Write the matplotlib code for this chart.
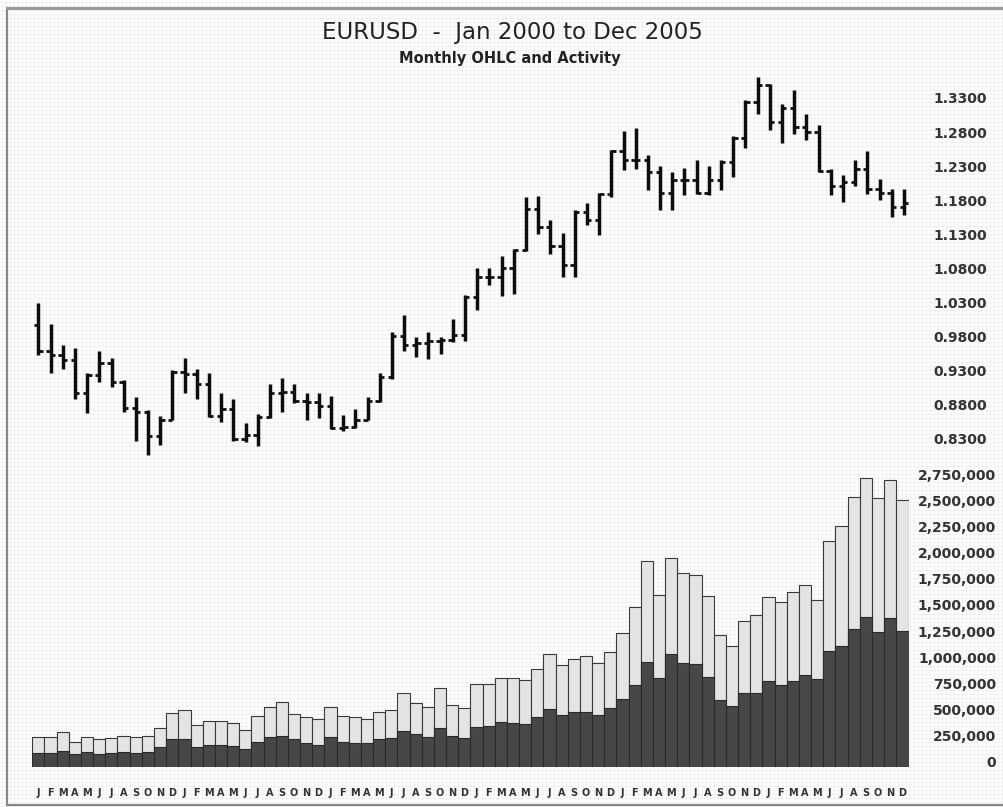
import numpy as np
import matplotlib
matplotlib.use('Agg')
import matplotlib.pyplot as plt
from matplotlib.ticker import FuncFormatter

# monthly OHLC, Jan 2000 .. Dec 2005
opens = [0.9977, 0.9586, 0.9527, 0.9454, 0.8966, 0.9244, 0.9406, 0.9136, 0.8746, 0.8696, 0.8340, 0.8584,
         0.9282, 0.9249, 0.9112, 0.8633, 0.8731, 0.8291, 0.8354, 0.8614, 0.8974, 0.8989, 0.8857, 0.8843,
         0.8779, 0.8457, 0.8476, 0.8584, 0.8857, 0.9209, 0.9806, 0.9674, 0.9699, 0.9737, 0.9757, 0.9821,
         1.0382, 1.0667, 1.0675, 1.0813, 1.1077, 1.1678, 1.1409, 1.1126, 1.0847, 1.1628, 1.1507, 1.1898,
         1.2523, 1.2397, 1.2397, 1.2215, 1.1907, 1.2104, 1.2095, 1.1907, 1.2104, 1.2362, 1.2719, 1.3241,
         1.3486, 1.2948, 1.3159, 1.2875, 1.2801, 1.2230, 1.2005, 1.2068, 1.2265, 1.1972, 1.1907, 1.1702]
highs = [1.0294, 0.9982, 0.9674, 0.9626, 0.9259, 0.9590, 0.9479, 0.9161, 0.8916, 0.8721, 0.8633, 0.9307,
         0.9479, 0.9332, 0.9259, 0.8966, 0.8878, 0.8535, 0.8672, 0.9112, 0.9200, 0.9102, 0.8966, 0.8966,
         0.8926, 0.8648, 0.8731, 0.8907, 0.9268, 0.9869, 1.0114, 0.9796, 0.9869, 0.9796, 1.0065, 1.0407,
         1.0813, 1.0813, 1.0979, 1.1092, 1.1848, 1.1859, 1.1517, 1.1321, 1.1650, 1.1760, 1.1907, 1.2543,
         1.2816, 1.2866, 1.2460, 1.2299, 1.2215, 1.2279, 1.2397, 1.2299, 1.2387, 1.2738, 1.3266, 1.3608,
         1.3511, 1.3218, 1.3423, 1.3061, 1.2900, 1.2265, 1.2167, 1.2397, 1.2523, 1.2118, 1.1972, 1.1972]
lows = [0.9527, 0.9268, 0.9332, 0.8892, 0.8681, 0.9136, 0.9062, 0.8696, 0.8271, 0.8061, 0.8208, 0.8574,
        0.8966, 0.8878, 0.8623, 0.8549, 0.8271, 0.8256, 0.8193, 0.8599, 0.8696, 0.8828, 0.8584, 0.8599,
        0.8438, 0.8417, 0.8457, 0.8574, 0.8843, 0.9171, 0.9590, 0.9494, 0.9469, 0.9552, 0.9720, 0.9737,
        1.0197, 1.0554, 1.0392, 1.0432, 1.1057, 1.1301, 1.1008, 1.0675, 1.0667, 1.1433, 1.1287, 1.1850,
        1.2250, 1.2265, 1.1957, 1.1664, 1.1664, 1.1873, 1.1898, 1.1873, 1.1947, 1.2142, 1.2573, 1.3071,
        1.2826, 1.2640, 1.2778, 1.2680, 1.2215, 1.1873, 1.1775, 1.2005, 1.1898, 1.1800, 1.1555, 1.1580]
closes = [0.9586, 0.9527, 0.9454, 0.8966, 0.9244, 0.9406, 0.9136, 0.8746, 0.8696, 0.8340, 0.8584, 0.9282,
          0.9249, 0.9112, 0.8633, 0.8731, 0.8291, 0.8354, 0.8614, 0.8974, 0.8989, 0.8857, 0.8843, 0.8779,
          0.8457, 0.8476, 0.8584, 0.8857, 0.9209, 0.9806, 0.9674, 0.9699, 0.9737, 0.9757, 0.9821, 1.0382,
          1.0667, 1.0675, 1.0813, 1.1077, 1.1678, 1.1409, 1.1126, 1.0847, 1.1628, 1.1507, 1.1898, 1.2523,
          1.2397, 1.2397, 1.2215, 1.1907, 1.2104, 1.2095, 1.1907, 1.2104, 1.2362, 1.2719, 1.3241, 1.3486,
          1.2948, 1.3159, 1.2875, 1.2801, 1.2230, 1.2005, 1.2068, 1.2265, 1.1972, 1.1907, 1.1702, 1.1760]

# activity in thousands: whole stack and the dark lower part
activity_total = [287, 287, 334, 245, 293, 267, 277, 299, 293, 299, 379, 522,
                  548, 404, 446, 446, 427, 357, 490, 580, 627, 510, 478, 459,
                  580, 490, 478, 459, 532, 548, 713, 618, 573, 755, 596, 564,
                  796, 792, 855, 851, 835, 937, 1083, 978, 1032, 1064, 994, 1105,
                  1281, 1529, 1975, 1647, 1998, 1854, 1838, 1638, 1265, 1160, 1402, 1456,
                  1631, 1583, 1679, 1743, 1599, 2167, 2307, 2581, 2763, 2571, 2747, 2555]
activity_dark = [134, 134, 159, 127, 146, 127, 134, 146, 134, 146, 197, 267,
                 267, 191, 213, 213, 204, 172, 245, 293, 299, 267, 229, 213,
                 293, 245, 229, 229, 267, 277, 350, 318, 287, 373, 299, 277,
                 388, 396, 432, 420, 414, 484, 554, 500, 532, 532, 500, 564,
                 650, 787, 1010, 851, 1083, 994, 988, 860, 643, 586, 713, 713,
                 828, 787, 828, 882, 841, 1115, 1160, 1319, 1440, 1297, 1424, 1306]

month_letters = list('JFMAMJJASOND') * 6
price_ticks = [0.83, 0.88, 0.93, 0.98, 1.03, 1.08, 1.13, 1.18, 1.23, 1.28, 1.33]
activity_ticks = list(range(0, 2751, 250))

W, H = 1004, 807


def px_rect(left, top, right, bottom):
    return [left / W, 1 - bottom / H, (right - left) / W, (bottom - top) / H]


fig = plt.figure(figsize=(W / 100, H / 100), dpi=100)

# graph-paper background and frame
bg = fig.add_axes([0, 0, 1, 1], zorder=0)
bg.set_xlim(0, W)
bg.set_ylim(H, 0)
bg.set_xticks(np.arange(2, W, 4))
bg.set_yticks(np.arange(2, H, 4))
bg.grid(True, color='#ececec', linewidth=0.5)
bg.tick_params(length=0, labelbottom=False, labelleft=False)
for s in bg.spines.values():
    s.set_visible(False)
bg.plot([7, 7], [8, 805], color='#888888', lw=1.6)
bg.plot([7, W], [8, 8], color='#999999', lw=2.2)
bg.plot([7, W], [805, 805], color='#888888', lw=1.6)

x = np.arange(len(opens))
ink = '#0d0d0d'

# price panel
ax1 = fig.add_axes(px_rect(32.3, 70, 910, 460), zorder=2)
ax1.patch.set_alpha(0)
ax1.vlines(x, lows, highs, color=ink, lw=2.5)
ax1.hlines(opens, x - 0.36, x, color=ink, lw=2.0)
ax1.hlines(closes, x, x + 0.36, color=ink, lw=2.0)
ax1.set_xlim(-0.5, 71.5)
ax1.set_ylim(0.799, 1.371)
ax1.set_xticks([])
ax1.yaxis.tick_right()
ax1.set_yticks(price_ticks)
ax1.yaxis.set_major_formatter(FuncFormatter(lambda v, p: f'{v:.4f}'))
ax1.tick_params(axis='y', length=0, pad=55.5, labelsize=10, labelcolor='#333333')
for lab in ax1.get_yticklabels():
    lab.set_ha('right')
    lab.set_fontweight('bold')
for s in ax1.spines.values():
    s.set_visible(False)

# activity panel
ax2 = fig.add_axes(px_rect(32.3, 470, 908.5, 767.3), zorder=2)
ax2.patch.set_alpha(0)
ax2.bar(x, activity_total, width=1.0, color='#e4e4e4', edgecolor='#3a3a3a', lw=0.8)
ax2.bar(x, activity_dark, width=1.0, color='#474747', edgecolor='#2a2a2a', lw=0.8)
ax2.set_xlim(-0.5, 71.5)
ax2.set_ylim(0, 2842)
ax2.yaxis.tick_right()
ax2.set_yticks(activity_ticks)
ax2.yaxis.set_major_formatter(FuncFormatter(lambda v, p: f'{int(round(v * 1000)):,}'))
ax2.tick_params(axis='y', length=0, pad=63, labelsize=10, labelcolor='#333333')
for lab in ax2.get_yticklabels():
    lab.set_ha('right')
    lab.set_va('baseline')
    lab.set_fontweight('bold')
ax2.set_xticks(x)
ax2.set_xticklabels(month_letters, fontsize=7, fontweight='bold', color='#333333')
ax2.tick_params(axis='x', length=0, pad=15)
for s in ax2.spines.values():
    s.set_visible(False)

fig.text(512 / W, 1 - 32 / H, 'EURUSD  -  Jan 2000 to Dec 2005', ha='center', va='center',
         fontsize=16.5, color='#222222')
fig.text(510 / W, 1 - 58 / H, 'Monthly OHLC and Activity', ha='center', va='center',
         fontsize=10.5, fontweight='bold', color='#222222')

fig.savefig('out.png', dpi=100)
